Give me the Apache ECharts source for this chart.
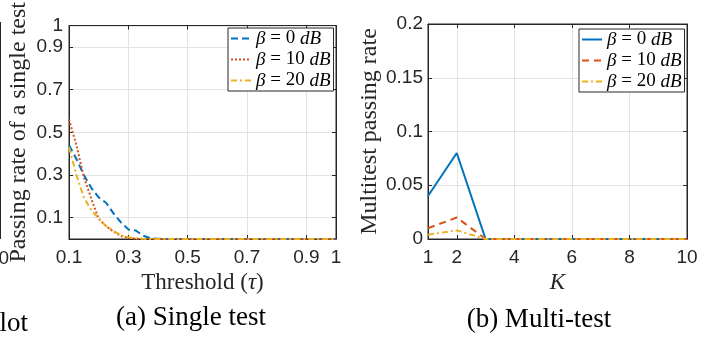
<!DOCTYPE html>
<html>
<head>
<meta charset="utf-8">
<script src="https://cdn.jsdelivr.net/npm/echarts@6/dist/echarts.min.js"></script>
<style>
  html, body { margin: 0; padding: 0; background: #fff; }
  #chart { width: 713px; height: 337px; }
</style>
</head>
<body>
<div id="chart"></div>
<script>
// (a) single test: threshold vs passing rate
const tau = [0.1, 0.125, 0.15, 0.175, 0.2, 0.225, 0.25, 0.275, 0.3, 0.325, 0.35, 0.375, 0.4,
             0.45, 0.5, 0.55, 0.6, 0.65, 0.7, 0.75, 0.8, 0.85, 0.9, 0.95, 1.0];
const single0  = [0.44, 0.375, 0.30, 0.24, 0.195, 0.17, 0.12, 0.078, 0.045, 0.04, 0.015, 0.004, 0.001,
                  0, 0, 0, 0, 0, 0, 0, 0, 0, 0, 0, 0];
const single10 = [0.56, 0.44, 0.29, 0.19, 0.095, 0.06, 0.035, 0.014, 0.006, 0.002, 0, 0, 0,
                  0, 0, 0, 0, 0, 0, 0, 0, 0, 0, 0, 0];
const single20 = [0.43, 0.30, 0.195, 0.135, 0.097, 0.06, 0.038, 0.018, 0.008, 0.003, 0.001, 0, 0,
                  0, 0, 0, 0, 0, 0, 0, 0, 0, 0, 0, 0];
const tauTicks = [0.1, 0.3, 0.5, 0.7, 0.9, 1];
const rateTicks = [0.1, 0.3, 0.5, 0.7, 0.9, 1];

// (b) multi-test: K vs passing rate
const kValues = [1, 2, 3, 4, 5, 6, 7, 8, 9, 10];
const multi0  = [0.04, 0.08, 0, 0, 0, 0, 0, 0, 0, 0];
const multi10 = [0.01, 0.02, 0, 0, 0, 0, 0, 0, 0, 0];
const multi20 = [0.004, 0.008, 0, 0, 0, 0, 0, 0, 0, 0];
const kTicks = [1, 2, 4, 6, 8, 10];

const legendLabels = {
    a0: '{i|β} = 0 {i|dB}', a10: '{i|β} = 10 {i|dB}', a20: '{i|β} = 20 {i|dB}',
    b0: '{i|β} = 0 {i|dB}', b10: '{i|β} = 10 {i|dB}', b20: '{i|β} = 20 {i|dB}'
};

const BLUE = '#0072BD', RED = '#D95319', YELLOW = '#EDB120';
const AXIS = '#262626', GRID = '#e3e3e3';
const SANS = 'Liberation Sans', SERIF = 'Liberation Serif';

const chart = echarts.init(document.getElementById('chart'));

const pairs = (xs, ys) => xs.map((x, i) => [x, ys[i]]);

const tick = (values) => ({show: true, inside: true, length: 4, lineStyle: {color: AXIS}, customValues: values});

const mainAxis = (extra) => Object.assign({
    type: 'value',
    axisLine: {show: true, onZero: false, lineStyle: {color: AXIS, width: 1}},
    axisTick: {show: true, inside: true, length: 4, lineStyle: {color: AXIS}},
    axisLabel: {color: AXIS, fontFamily: SANS, fontSize: 19},
    splitLine: {show: true, lineStyle: {color: GRID, width: 1}}
}, extra);

const sideAxis = (extra) => Object.assign({
    type: 'value',
    axisLine: {show: true, onZero: false, lineStyle: {color: AXIS, width: 1}},
    axisTick: {show: true, inside: true, length: 4, lineStyle: {color: AXIS}},
    axisLabel: {show: false},
    splitLine: {show: false}
}, extra);

const legendBase = {
    orient: 'vertical',
    itemWidth: 20,
    itemHeight: 10,
    itemGap: 2,
    padding: [1, 3, 1, 2],
    borderColor: AXIS,
    borderWidth: 1,
    backgroundColor: '#fff',
    // line only, no marker
    itemStyle: {opacity: 0},
    formatter: name => legendLabels[name],
    textStyle: {
        fontFamily: SERIF, fontSize: 19, color: '#000',
        rich: {i: {fontFamily: SERIF, fontStyle: 'italic', fontSize: 19, color: '#000'}}
    }
};

const option = {
    animation: false,
    grid: [
        {left: 69, top: 22, width: 267, height: 217, show: true, borderColor: AXIS, borderWidth: 1},
        {left: 428, top: 24, width: 259, height: 215, show: true, borderColor: AXIS, borderWidth: 1}
    ],
    legend: [
        Object.assign({}, legendBase, {left: 228, top: 28, data: ['a0', 'a10', 'a20']}),
        Object.assign({}, legendBase, {left: 579, top: 29, data: ['b0', 'b10', 'b20']})
    ],
    xAxis: [
        mainAxis({
            gridIndex: 0, min: 0.1, max: 1,
            axisTick: tick(tauTicks),
            axisLabel: {color: AXIS, fontFamily: SANS, fontSize: 19, margin: 9, customValues: tauTicks},
            name: 'Threshold ({i|τ})', nameLocation: 'middle', nameGap: 29,
            nameTextStyle: {fontFamily: SERIF, fontSize: 23, color: AXIS,
                rich: {i: {fontFamily: SERIF, fontStyle: 'italic', fontSize: 23, color: AXIS}}}
        }),
        sideAxis({gridIndex: 0, position: 'top', min: 0.1, max: 1, axisTick: tick(tauTicks)}),
        mainAxis({
            gridIndex: 1, min: 1, max: 10,
            axisTick: tick(kTicks),
            axisLabel: {color: AXIS, fontFamily: SANS, fontSize: 19, margin: 9, customValues: kTicks},
            name: 'K', nameLocation: 'middle', nameGap: 29,
            nameTextStyle: {fontFamily: SERIF, fontStyle: 'italic', fontSize: 23, color: AXIS}
        }),
        sideAxis({gridIndex: 1, position: 'top', min: 1, max: 10, axisTick: tick(kTicks)})
    ],
    yAxis: [
        mainAxis({
            gridIndex: 0, min: 0, max: 1,
            axisTick: tick(rateTicks),
            axisLabel: {color: AXIS, fontFamily: SANS, fontSize: 19, margin: 6, customValues: rateTicks},
            name: 'Passing rate of a single test', nameLocation: 'middle', nameGap: 38,
            nameTextStyle: {fontFamily: SERIF, fontSize: 24, color: AXIS}
        }),
        sideAxis({gridIndex: 0, position: 'right', min: 0, max: 1, axisTick: tick(rateTicks)}),
        mainAxis({
            gridIndex: 1, min: 0, max: 0.2, interval: 0.05,
            axisLabel: {color: AXIS, fontFamily: SANS, fontSize: 19, margin: 5},
            name: 'Multitest passing rate', nameLocation: 'middle', nameGap: 39,
            nameTextStyle: {fontFamily: SERIF, fontSize: 24, color: AXIS}
        }),
        sideAxis({gridIndex: 1, position: 'right', min: 0, max: 0.2, interval: 0.05})
    ],
    series: [
        {name: 'a0', type: 'line', xAxisIndex: 0, yAxisIndex: 0, data: pairs(tau, single0),
            symbol: 'none', lineStyle: {color: BLUE, width: 2, type: [7, 4]}, itemStyle: {color: BLUE}},
        {name: 'a10', type: 'line', xAxisIndex: 0, yAxisIndex: 0, data: pairs(tau, single10),
            symbol: 'none', lineStyle: {color: RED, width: 2, type: [2, 2]}, itemStyle: {color: RED}},
        {name: 'a20', type: 'line', xAxisIndex: 0, yAxisIndex: 0, data: pairs(tau, single20),
            symbol: 'none', lineStyle: {color: YELLOW, width: 2, type: [6, 3, 2, 3]}, itemStyle: {color: YELLOW}},
        {name: 'b0', type: 'line', xAxisIndex: 2, yAxisIndex: 2, data: pairs(kValues, multi0),
            symbol: 'none', lineStyle: {color: BLUE, width: 2, type: 'solid'}, itemStyle: {color: BLUE}},
        {name: 'b10', type: 'line', xAxisIndex: 2, yAxisIndex: 2, data: pairs(kValues, multi10),
            symbol: 'none', lineStyle: {color: RED, width: 2, type: [7, 5]}, itemStyle: {color: RED}},
        {name: 'b20', type: 'line', xAxisIndex: 2, yAxisIndex: 2, data: pairs(kValues, multi20),
            symbol: 'none', lineStyle: {color: YELLOW, width: 2, type: [6, 3, 2, 3]}, itemStyle: {color: YELLOW}}
    ],
    graphic: [
        {type: 'text', style: {text: '(a) Single test', font: '27px "Liberation Serif"',
            fill: '#000', align: 'center', verticalAlign: 'middle', x: 191, y: 318}},
        {type: 'text', style: {text: '(b) Multi-test', font: '27px "Liberation Serif"',
            fill: '#000', align: 'center', verticalAlign: 'middle', x: 539, y: 320}},
        // pieces of the neighbouring figure cut off at the left edge
        {type: 'text', style: {text: '0', font: '19px "Liberation Sans"', fill: AXIS,
            align: 'right', verticalAlign: 'middle', x: 9, y: 259}},
        {type: 'text', style: {text: 'lot', font: '27px "Liberation Serif"', fill: '#000',
            align: 'right', verticalAlign: 'middle', x: 28, y: 324}},
        {type: 'line', shape: {x1: 0.5, y1: 22, x2: 0.5, y2: 239}, style: {stroke: AXIS, lineWidth: 1}}
    ]
};

chart.setOption(option);
</script>
</body>
</html>
